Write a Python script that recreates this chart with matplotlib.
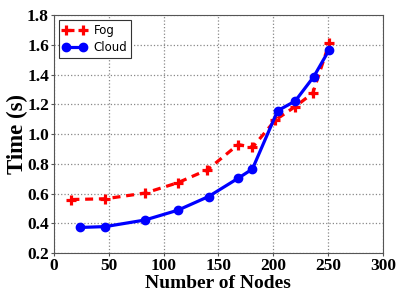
import matplotlib
matplotlib.use("Agg")
import matplotlib.pyplot as plt

fog_x = [16, 47, 83, 113, 140, 168, 181, 202, 220, 236, 251]
fog_y = [0.56, 0.565, 0.603, 0.673, 0.76, 0.93, 0.91, 1.095, 1.185, 1.275, 1.61]
cloud_x = [24, 47, 83, 113, 141, 168, 181, 204, 220, 237, 251]
cloud_y = [0.372, 0.378, 0.422, 0.488, 0.58, 0.703, 0.765, 1.157, 1.222, 1.387, 1.567]

xticks = [0, 50, 100, 150, 200, 250, 300]
yticks = [0.2, 0.4, 0.6, 0.8, 1.0, 1.2, 1.4, 1.6, 1.8]

fig = plt.figure(figsize=(3.96, 2.97), dpi=100)
ax = fig.add_axes([0.136, 0.148, 0.831, 0.801])

ax.plot(fog_x, fog_y, color='red', linestyle='--', linewidth=2.3,
        marker='+', markersize=6.5, markeredgewidth=2.3, label='Fog', dashes=(2.5, 1.8))
ax.plot(cloud_x, cloud_y, color='blue', linestyle='-', linewidth=2.3,
        marker='o', markersize=6, label='Cloud')

ax.set_xlim(0, 300)
ax.set_ylim(0.2, 1.8)
ax.set_xticks(xticks)
ax.set_yticks(yticks)
ax.set_xticklabels([str(v) for v in xticks])
ax.set_yticklabels(['%.1f' % v for v in yticks])
for lab in ax.get_xticklabels() + ax.get_yticklabels():
    lab.set_fontfamily('Liberation Serif')
    lab.set_fontweight('bold')
    lab.set_fontsize(12.5)
ax.tick_params(direction='out', length=2, width=0.8, pad=1.5, color='#555555')
ax.grid(True, linestyle=':', color='#888888', linewidth=0.9)
for s in ax.spines.values():
    s.set_color('#555555')

ax.set_xlabel('Number of Nodes', fontfamily='Liberation Serif', fontweight='bold', fontsize=14, labelpad=1)
ax.set_ylabel('Time (s)', fontfamily='Liberation Serif', fontweight='bold', fontsize=16.5, labelpad=-1)

leg = ax.legend(loc='upper left', numpoints=2, fancybox=False,
                framealpha=1, edgecolor='#333333', handlelength=2.0,
                borderaxespad=0.4, borderpad=0.35, labelspacing=0.35,
                handletextpad=0.6, prop={'family': 'DejaVu Sans', 'size': 8.5})
leg.get_frame().set_linewidth(0.8)

fig.savefig('out.png', dpi=100)
